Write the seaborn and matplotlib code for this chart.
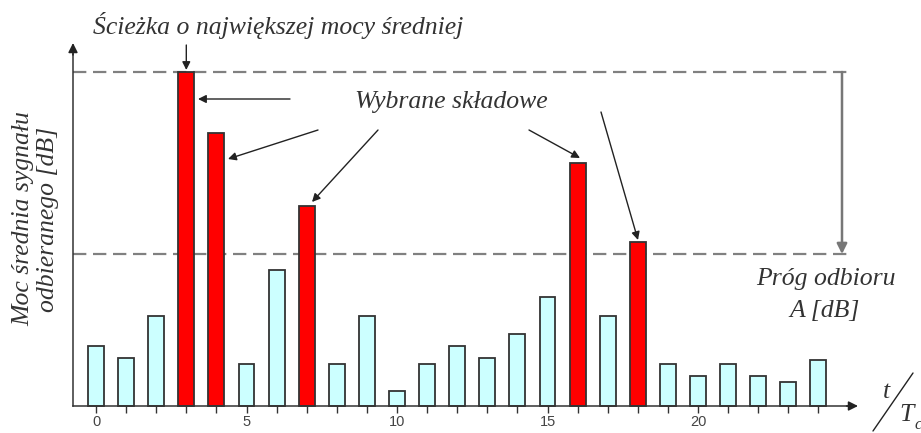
import matplotlib
matplotlib.use("Agg")
import matplotlib.pyplot as plt
import seaborn as sns
import pandas as pd

# Mean received power of each multipath component (relative units, peak = 100)
delays = list(range(25))
power = [18.0, 14.5, 27.0, 100.0, 81.8, 12.7, 40.7, 60.0, 12.7, 27.0,
         4.5, 12.7, 18.0, 14.5, 21.7, 32.6, 72.7, 27.0, 49.0, 12.7,
         9.0, 12.7, 9.0, 7.2, 13.7]
threshold = 45.5          # reception threshold A [dB] below the strongest path
tick_labels = ["0", "5", "10", "15", "20"]

peak = max(power)
selected = [p >= threshold for p in power]
df = pd.DataFrame({"t": delays, "moc": power, "wybrana": selected})

sns.set_theme(style="white")
plt.rcParams["font.family"] = ["Liberation Serif", "DejaVu Sans"]

W, H = 921, 433
fig = plt.figure(figsize=(W / 100, H / 100), dpi=100)
ax = fig.add_axes([0, 0, 1, 1])

# pixel scale of the drawing
x0_px, dx_px = 96.0, 30.1      # x position of t=0 and width of one step
base_px, dy_px = 406.0, 3.34   # baseline row and pixels per unit of power


def px(x, y):
    """Convert a position in pixels (from the top-left corner) to data units."""
    return (x - x0_px) / dx_px, (base_px - y) / dy_px


sns.barplot(data=df, x="t", y="moc", hue="wybrana",
            palette={True: "#ff0000", False: "#ccffff"}, saturation=1,
            dodge=False, width=0.53, edgecolor="#333333", linewidth=1.3,
            legend=False, ax=ax, zorder=3)

ax.set_xlim(-x0_px / dx_px, (W - x0_px) / dx_px)
ax.set_ylim(-(H - base_px) / dy_px, base_px / dy_px)
ax.set_xlabel("")
ax.set_ylabel("")
ax.grid(False)
ax.set_facecolor("white")

# axes drawn as arrows from the origin
x_left, _ = px(73, 0)
x_end, _ = px(848, 0)
x_tip, _ = px(858, 0)
_, y_end = px(0, 54)
_, y_tip = px(0, 43)
for side in ("top", "right"):
    ax.spines[side].set_visible(False)
ax.spines["bottom"].set_position(("data", 0))
ax.spines["left"].set_position(("data", x_left))
ax.spines["bottom"].set_bounds(x_left, x_end)
ax.spines["left"].set_bounds(0, y_end)
for side in ("bottom", "left"):
    ax.spines[side].set_color("#333333")
    ax.spines[side].set_linewidth(1.1)
    ax.spines[side].set_zorder(4)
arrow_axis = dict(arrowstyle="-|>", color="#222222", lw=1.1,
                  mutation_scale=14, shrinkA=0, shrinkB=0)
ax.annotate("", xy=(x_tip, 0), xytext=(x_end - 0.05, 0), arrowprops=arrow_axis, zorder=5)
ax.annotate("", xy=(x_left, y_tip), xytext=(x_left, y_end - 0.3), arrowprops=arrow_axis, zorder=5)

ax.set_xticks(delays)
ax.set_xticklabels([str(t) if str(t) in tick_labels else "" for t in delays],
                   fontfamily="Liberation Sans", fontsize=10.5, color="#444444")
ax.tick_params(axis="x", which="major", direction="inout", length=9.5,
               width=1.0, color="#333333", pad=1.5, bottom=True)
ax.set_yticks([])

# peak level and reception threshold
dash = (0, (6.0, 3.0))
for level in (peak, threshold):
    ax.plot([x_left, px(852, 0)[0]], [level, level], color="#808080",
            lw=1.6, linestyle=dash, zorder=2)

x_arrow, _ = px(842, 0)
ax.annotate("", xy=(x_arrow, threshold), xytext=(x_arrow, peak),
            arrowprops=dict(arrowstyle="-|>", color="#777777", lw=1.8,
                            mutation_scale=15, shrinkA=0, shrinkB=0))

txt = dict(color="#333333", style="italic", fontsize=18.5)
arrow_kw = dict(arrowstyle="-|>", color="#222222", lw=1.0,
                mutation_scale=12, shrinkA=0, shrinkB=0)

# strongest path
ax.text(*px(278, 25), "Ścieżka o największej mocy średniej",
        ha="center", va="center", **txt)
ax.annotate("", xy=(3, peak + 0.6), xytext=(3, px(0, 45)[1]), arrowprops=arrow_kw)

# selected components
ax.text(*px(451, 102), "Wybrane składowe", ha="center", va="center", **txt)
pointers = [  # (bar, tail pixel, tip pixel)
    (3, (290, 99), (198, 99)),
    (4, (318, 130), (228, 159)),
    (7, (378, 130), (312, 202)),
    (16, (529, 130), (580, 158)),
    (18, (601, 112), (638, 240)),
]
for i, tail, tip in pointers:
    ax.annotate("", xy=px(*tip), xytext=px(*tail), arrowprops=arrow_kw)

ax.text(*px(826, 279), "Próg odbioru", ha="center", va="center", **txt)
ax.text(*px(825, 311), "A [dB]", ha="center", va="center", **txt)

# y axis title
fig.text(36 / W, 1 - 219 / H, "Moc średnia sygnału\nodbieranego [dB]",
         rotation=90, ha="center", va="center", linespacing=1.15,
         transform=fig.transFigure, **txt)

# t / T_c label
ax.plot([px(873, 0)[0], px(913, 0)[0]], [px(0, 431)[1], px(0, 373)[1]],
        color="#222222", lw=1.0, clip_on=False)
ax.text(*px(886, 392), "t", ha="center", va="center", **txt)
ax.text(*px(906, 415), "T", ha="center", va="center", **txt)
ax.text(*px(918, 425), "c", ha="center", va="center", color="#333333",
        style="italic", fontsize=12)

fig.savefig("out.png", dpi=100, facecolor="white")
